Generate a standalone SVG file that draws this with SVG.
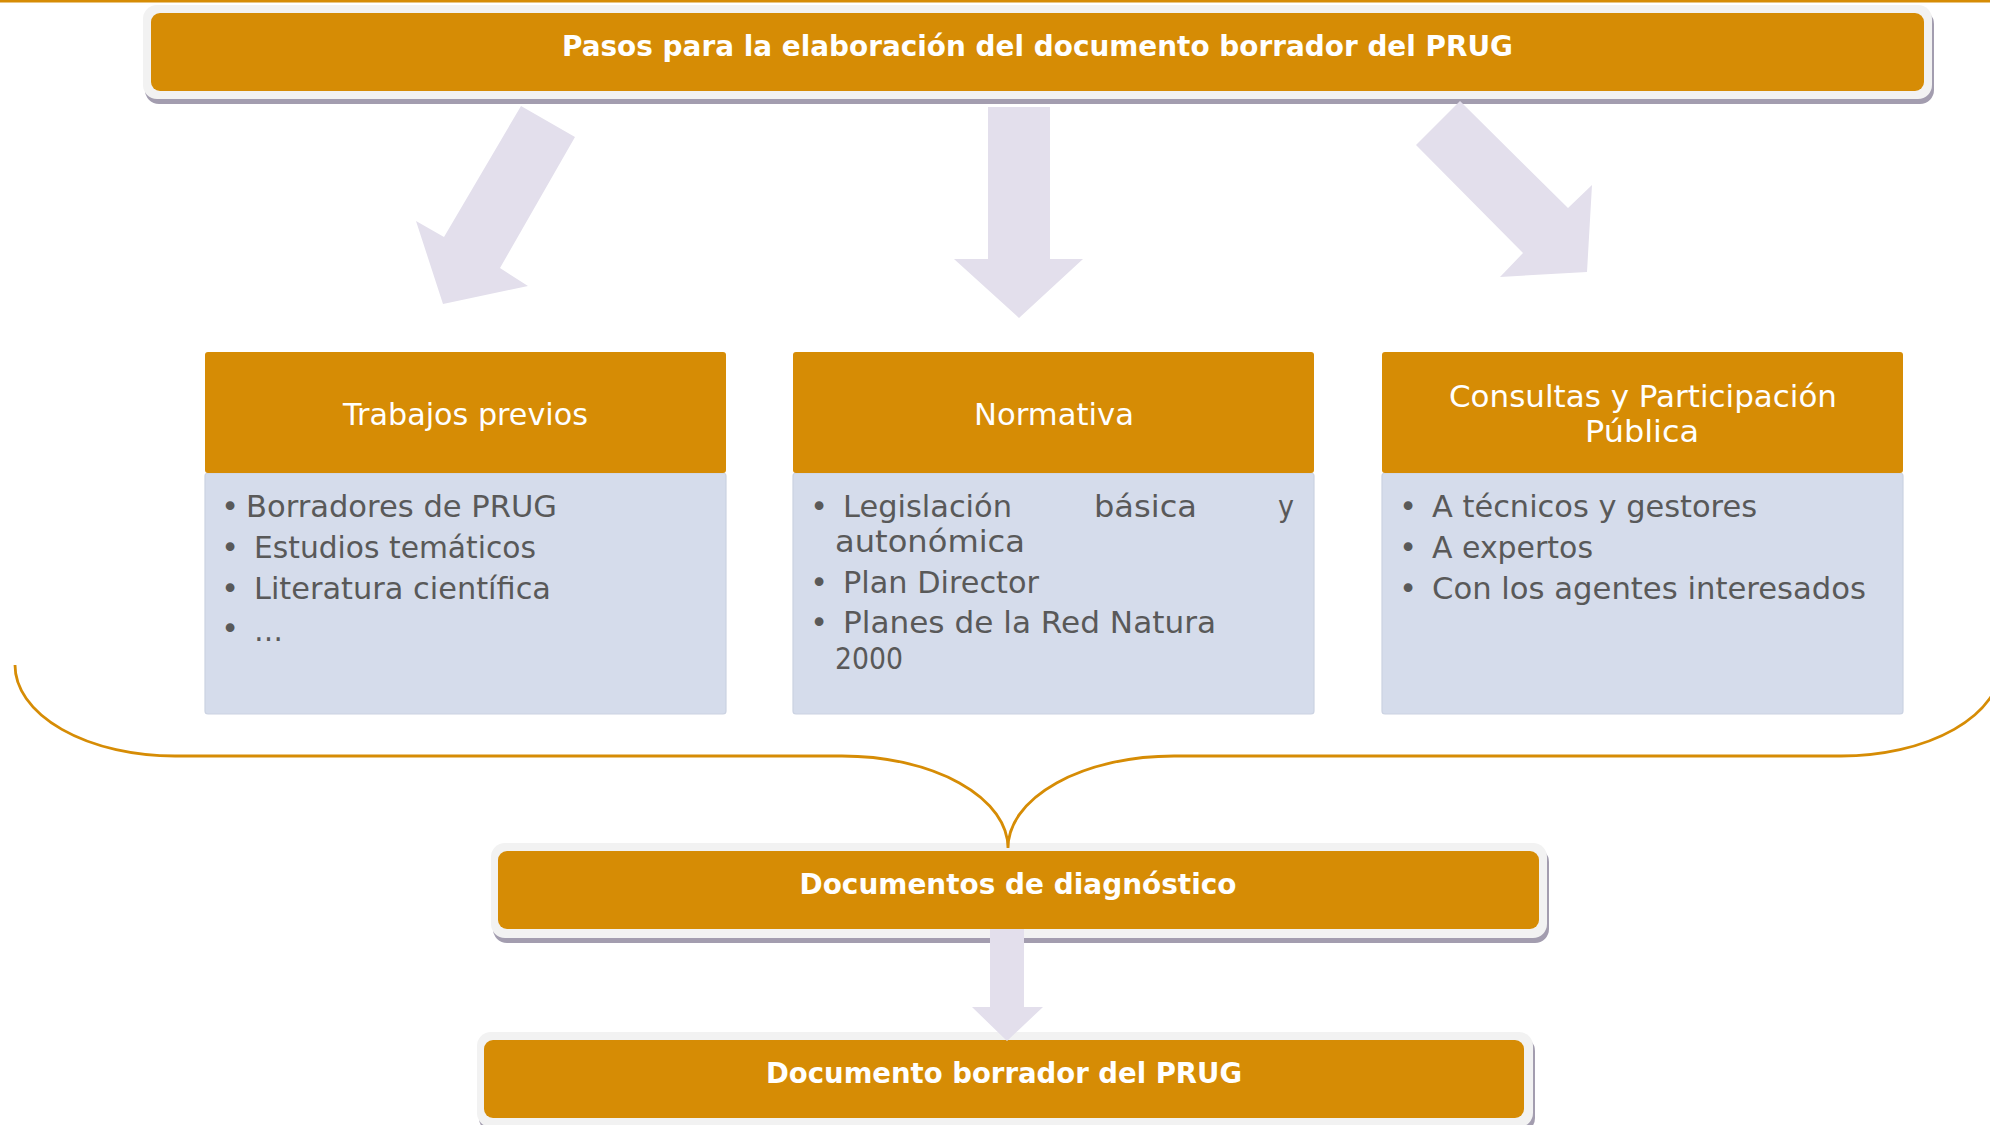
<svg xmlns="http://www.w3.org/2000/svg" width="1990" height="1125" viewBox="0 0 1990 1125">
<style>
.frame{fill:#F2F2F2}
.shadow{fill:#A39DAF}
.org{fill:#D68C05}
.body{fill:#D5DCEB;stroke:#CBD2E2;stroke-width:1.2}
.arrow{fill:#E3DFEC}
.brace{fill:none;stroke:#D68C05;stroke-width:2.8}
.bold{font-family:"DejaVu Sans","Liberation Sans",sans-serif;font-weight:bold;font-size:29px;fill:#FFFFFF;text-anchor:middle}
.hdr{font-family:"DejaVu Sans","Liberation Sans",sans-serif;font-size:31px;fill:#FFFFFF;text-anchor:middle}
.txt{font-family:"DejaVu Sans","Liberation Sans",sans-serif;font-size:30px;fill:#595959}
.bul{font-family:"DejaVu Sans","Liberation Sans",sans-serif;font-size:30px;fill:#595959;text-anchor:middle}
</style>
<rect x="0" y="0" width="1990" height="2.5" class="org"/>

<g id="title">
<rect x="145" y="10" width="1789" height="94" rx="14" class="shadow"/>
<rect x="143" y="5" width="1789" height="94" rx="14" class="frame"/>
<rect x="151" y="13" width="1773" height="78" rx="9" class="org"/>
<text x="1037.5" y="56" class="bold" textLength="951" lengthAdjust="spacingAndGlyphs">Pasos para la elaboración del documento borrador del PRUG</text>
</g>

<g id="trabajos">
<rect x="205" y="473" width="521" height="241" rx="3" class="body"/>
<rect x="205" y="352" width="521" height="121" rx="3" class="org"/>
<text x="465.5" y="425" class="hdr" textLength="245" lengthAdjust="spacingAndGlyphs">Trabajos previos</text>
<text x="230" y="517" class="bul">•</text>
<text x="246" y="517" class="txt" textLength="311" lengthAdjust="spacingAndGlyphs">Borradores de PRUG</text>
<text x="230" y="558" class="bul">•</text>
<text x="254" y="558" class="txt" textLength="282" lengthAdjust="spacingAndGlyphs">Estudios temáticos</text>
<text x="230" y="599" class="bul">•</text>
<text x="254" y="599" class="txt" textLength="297" lengthAdjust="spacingAndGlyphs">Literatura científica</text>
<text x="230" y="639" class="bul">•</text>
<text x="254" y="641" class="txt" textLength="29" lengthAdjust="spacingAndGlyphs">…</text>
</g>

<g id="normativa">
<rect x="793" y="473" width="521" height="241" rx="3" class="body"/>
<rect x="793" y="352" width="521" height="121" rx="3" class="org"/>
<text x="1054" y="425" class="hdr" textLength="160" lengthAdjust="spacingAndGlyphs">Normativa</text>
<text x="819" y="517" class="bul">•</text>
<text x="843" y="517" class="txt" textLength="169" lengthAdjust="spacingAndGlyphs">Legislación</text>
<text x="1094" y="517" class="txt" textLength="103" lengthAdjust="spacingAndGlyphs">básica</text>
<text x="1278" y="517" class="txt" textLength="16" lengthAdjust="spacingAndGlyphs">y</text>
<text x="835" y="552" class="txt" textLength="190" lengthAdjust="spacingAndGlyphs">autonómica</text>
<text x="819" y="593" class="bul">•</text>
<text x="843" y="593" class="txt" textLength="196" lengthAdjust="spacingAndGlyphs">Plan Director</text>
<text x="819" y="633" class="bul">•</text>
<text x="843" y="633" class="txt" textLength="373" lengthAdjust="spacingAndGlyphs">Planes de la Red Natura</text>
<text x="835" y="669" class="txt" textLength="68" lengthAdjust="spacingAndGlyphs">2000</text>
</g>

<g id="consultas">
<rect x="1382" y="473" width="521" height="241" rx="3" class="body"/>
<rect x="1382" y="352" width="521" height="121" rx="3" class="org"/>
<text x="1643" y="407" class="hdr" textLength="388" lengthAdjust="spacingAndGlyphs">Consultas y Participación</text>
<text x="1642" y="442" class="hdr" textLength="114" lengthAdjust="spacingAndGlyphs">Pública</text>
<text x="1408" y="517" class="bul">•</text>
<text x="1432" y="517" class="txt" textLength="325" lengthAdjust="spacingAndGlyphs">A técnicos y gestores</text>
<text x="1408" y="558" class="bul">•</text>
<text x="1432" y="558" class="txt" textLength="161" lengthAdjust="spacingAndGlyphs">A expertos</text>
<text x="1408" y="599" class="bul">•</text>
<text x="1432" y="599" class="txt" textLength="434" lengthAdjust="spacingAndGlyphs">Con los agentes interesados</text>
</g>

<g id="diagnostico">
<rect x="493" y="848" width="1056" height="95" rx="14" class="shadow"/>
<rect x="491" y="843" width="1056" height="95" rx="14" class="frame"/>
<rect x="498" y="851" width="1041" height="78" rx="9" class="org"/>
<text x="1018" y="894" class="bold" textLength="437" lengthAdjust="spacingAndGlyphs">Documentos de diagnóstico</text>
</g>

<g id="borrador">
<rect x="479" y="1037" width="1056" height="95" rx="14" class="shadow"/>
<rect x="477" y="1032" width="1056" height="95" rx="14" class="frame"/>
<rect x="484" y="1040" width="1040" height="78" rx="9" class="org"/>
<text x="1004" y="1083" class="bold" textLength="476" lengthAdjust="spacingAndGlyphs">Documento borrador del PRUG</text>
</g>

<g id="connectors">
<polygon class="arrow" points="521,106 575,137 500,268 528,286 443,304 416,221 444,237"/>
<polygon class="arrow" points="988,107 1050,107 1050,259 1083,259 1019,318 954,259 988,259"/>
<polygon class="arrow" points="1460,101 1568,208 1592,185 1587,272 1500,277 1523,253 1416,145"/>
<polygon class="arrow" points="990,929 1024,929 1024,1007 1043,1007 1007,1041 972,1007 990,1007"/>
<path class="brace" d="M15,665 A160,91 0 0 0 175,756 L842,756 A166,92 0 0 1 1008,848 A166,92 0 0 1 1174,756 L1841,756 A160,91 0 0 0 2001,665"/>
</g>
</svg>
